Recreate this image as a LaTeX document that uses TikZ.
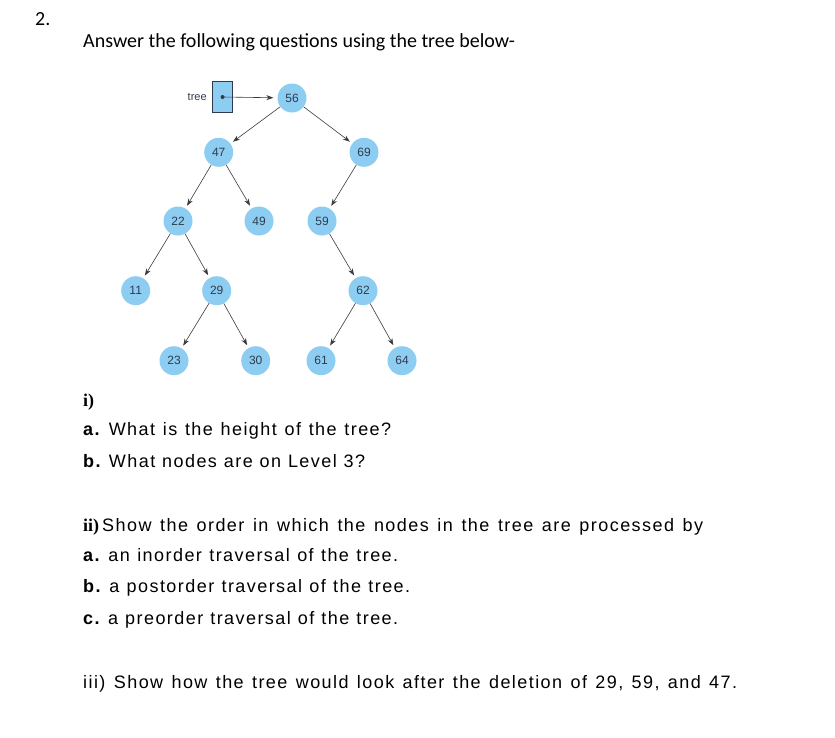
\documentclass[tikz,border=0pt]{standalone}
\usepackage{fontspec}
\setmainfont{Liberation Sans}
\newfontfamily\calibrifont{Carlito}
\newfontfamily\romanfont{Liberation Serif}
\newfontfamily\weitfont[LetterSpace=8]{Liberation Sans}
\usepackage{tikz}
\usetikzlibrary{arrows.meta,positioning}
\definecolor{knotenblau}{HTML}{8ECDF2}
\definecolor{knotentext}{HTML}{2E3B4E}
\definecolor{kante}{HTML}{3A3A3A}
%Zeile auf feste Breite bringen (Wortabstaende dehnen)
\newcommand\breit[2]{\makebox[#1pt][s]{\frenchspacing#2}}
\tikzset{
  knoten/.style={circle,fill=knotenblau,minimum size=29pt,inner sep=0pt,
    text=knotentext,font=\fontsize{12}{12}\selectfont},
  kanten/.style={draw=kante,line width=0.6pt,shorten >=3pt,
    -{Stealth[length=7pt,width=5pt]}},
  zeiger/.style={draw=knotentext,line width=1.2pt,fill=knotenblau,
    minimum width=20pt,minimum height=31pt,inner sep=0pt},
  zeile/.style={anchor=base west,inner sep=0pt,
    font=\weitfont\fontsize{18}{20}\selectfont}
}
\begin{document}
\begin{tikzpicture}[x=1pt,y=-1pt]
\useasboundingbox (0,0) rectangle (835,737);
%Ueberschrift
\node[zeile,font=\calibrifont\fontsize{20}{22}\selectfont] (nr) at (35,25) {2.};
\node[zeile,font=\calibrifont\fontsize{20}{22}\selectfont] (aufgabe) at (83,47.7) {Answer the following questions using the tree below-};
%Baum: Name/x/y
\foreach \w/\x/\y in {56/292/98,47/218.7/152.3,69/364/152.3,22/178/221,49/259/221,59/322/221,
  11/135.7/290.7,29/216.7/290.7,62/363/290.7,23/174/360.7,30/255.7/360.7,61/321/360.7,64/402/360.7}{
\node[knoten] (n\w) at (\x,\y) {\w};
}
\foreach \a/\b in {56/47,56/69,47/22,47/49,69/59,22/11,22/29,59/62,29/23,29/30,62/61,62/64}{
\draw[kanten] (n\a) -- (n\b);
}
%Zeiger auf die Wurzel
\node[zeiger] (tree) at (222.5,97) {};
\node[left=5pt of tree,inner sep=0pt,text=knotentext,font=\fontsize{11}{11}\selectfont] (treelabel) {tree};
\fill[knotentext] (tree.center) circle (2pt);
\draw[kanten,shorten >=4pt] (tree.center) -- (n56);
%Fragen
\node[zeile,font=\romanfont\bfseries\fontsize{18}{20}\selectfont] (q1) at (83,406) {i)};
\node[zeile] (q1a) at (83,435) {\breit{308}{\textbf{a.} What is the height of the tree?}};
\node[zeile] (q1b) at (83,467) {\breit{282}{\textbf{b.} What nodes are on Level 3?}};
\node[zeile] (q2) at (83,531) {\breit{620}{{\romanfont\bfseries ii)}\,Show the order in which the nodes in the tree are processed by}};
\node[zeile] (q2a) at (83,561) {\breit{315}{\textbf{a.} an inorder traversal of the tree.}};
\node[zeile] (q2b) at (83,592) {\breit{327}{\textbf{b.} a postorder traversal of the tree.}};
\node[zeile] (q2c) at (83,624) {\breit{315}{\textbf{c.} a preorder traversal of the tree.}};
\node[zeile] (q3) at (83,688) {\breit{654}{iii) Show how the tree would look after the deletion of 29, 59, and 47.}};
\end{tikzpicture}
\end{document}
